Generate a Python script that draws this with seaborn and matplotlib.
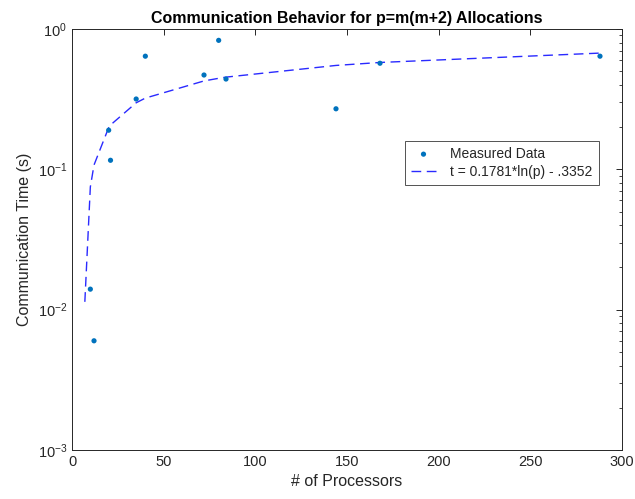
import matplotlib
matplotlib.use("Agg")
import matplotlib.pyplot as plt
import seaborn as sns
import numpy as np
import pandas as pd
from matplotlib.ticker import LogLocator, NullFormatter

proc = [10, 12, 20, 21, 35, 40, 72, 80, 84, 144, 168, 288]
comm_time = [0.014, 0.006, 0.19, 0.116, 0.317, 0.64, 0.47, 0.83, 0.44, 0.27, 0.57, 0.64]

# Fit line values at the plotted processor counts
fit_p = [7, 10, 12, 20, 21, 35, 40, 72, 80, 84, 144, 168, 288]
fit_t = [0.01137, 0.07489, 0.10736, 0.19834, 0.20703, 0.29801, 0.32179,
         0.42647, 0.44524, 0.45393, 0.54992, 0.57738, 0.67337]

title = "Communication Behavior for p=m(m+2) Allocations"
xlabel = "# of Processors"
ylabel = "Communication Time (s)"
legend_labels = ["Measured Data", "t = 0.1781*ln(p) - .3352"]

sns.set_style("white")
plt.rcParams['font.family'] = ['Liberation Sans', 'DejaVu Sans']
plt.rcParams['mathtext.fontset'] = 'custom'
plt.rcParams['mathtext.rm'] = 'Liberation Sans'

gray = "#262626"
fig = plt.figure(figsize=(6.35, 4.99), dpi=100)
ax = fig.add_axes([0.1134, 0.0982, 0.8661, 0.8437])

df_data = pd.DataFrame({"p": proc, "t": comm_time})
df_fit = pd.DataFrame({"p": fit_p, "t": fit_t})

sns.scatterplot(data=df_data, x="p", y="t", ax=ax, color="#0072BD", s=14,
                edgecolor="none", marker="o", label=legend_labels[0], zorder=3)
sns.lineplot(data=df_fit, x="p", y="t", ax=ax, color="#2a2aff", linewidth=1.0,
             dashes=False, label=legend_labels[1], zorder=2)
ax.lines[-1].set_linestyle((0, (7, 4)))

ax.set_yscale("log")
ax.set_xlim(0, 300)
ax.set_ylim(1e-3, 1)
ax.set_xticks([0, 50, 100, 150, 200, 250, 300])
ax.yaxis.set_major_locator(LogLocator(base=10, numticks=10))
ax.yaxis.set_minor_locator(LogLocator(base=10, subs=np.arange(2, 10), numticks=10))
ax.yaxis.set_minor_formatter(NullFormatter())

ax.tick_params(axis="both", which="both", direction="in", top=True, right=True,
               colors=gray, labelcolor=gray, labelsize=10.5)
ax.tick_params(axis="both", which="major", length=4, width=0.7)
ax.tick_params(axis="y", which="minor", length=2.5, width=0.6)
for s in ax.spines.values():
    s.set_color(gray)
    s.set_linewidth(0.7)

ax.set_title(title, fontsize=11.5, fontweight="bold", color="black", pad=4)
ax.set_xlabel(xlabel, fontsize=11.5, color=gray, labelpad=4)
ax.set_ylabel(ylabel, fontsize=11.5, color=gray, labelpad=4)

leg = ax.legend(loc="upper left", bbox_to_anchor=(0.605, 0.735), fontsize=10,
                frameon=True, fancybox=False, borderpad=0.45, handlelength=1.8,
                handletextpad=1.0, labelspacing=0.3, borderaxespad=0)
leg.get_frame().set_edgecolor(gray)
leg.get_frame().set_linewidth(0.7)
for t in leg.get_texts():
    t.set_color(gray)

fig.savefig("out.png", dpi=100)
